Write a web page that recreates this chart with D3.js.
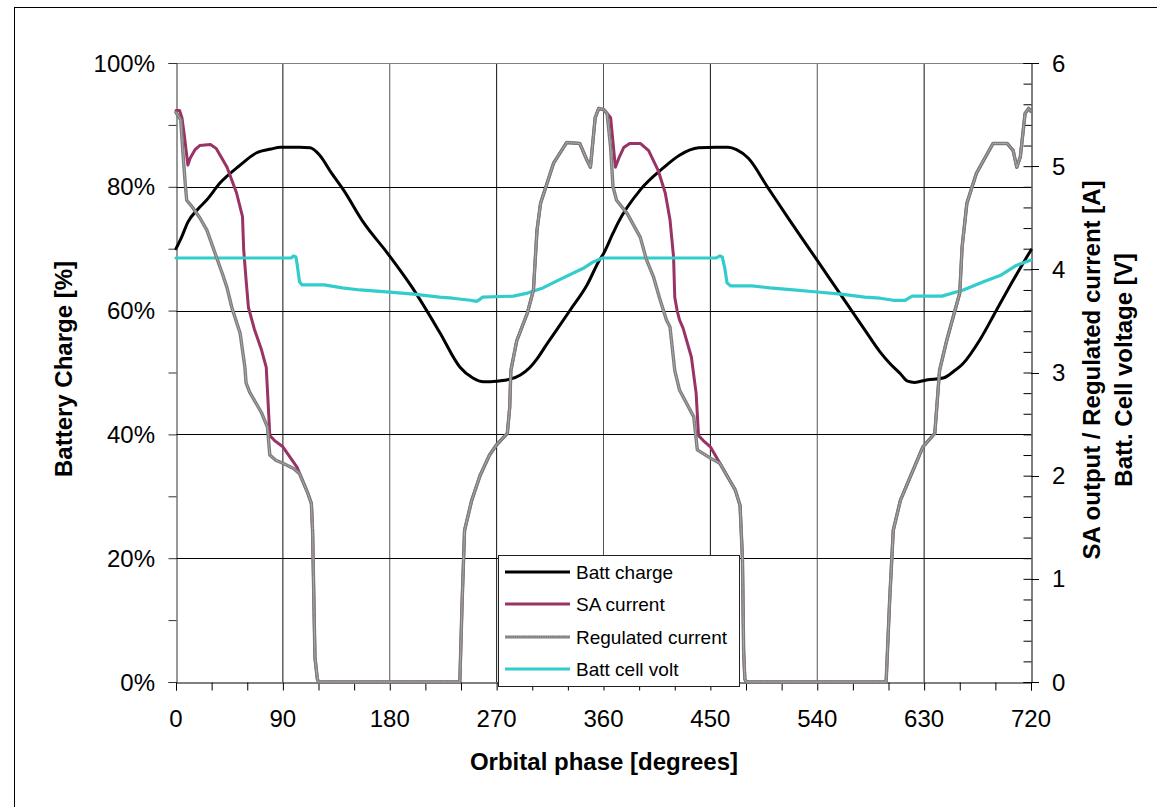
<!DOCTYPE html>
<html><head><meta charset="utf-8">
<script src="https://cdn.jsdelivr.net/npm/d3@7/dist/d3.min.js"></script>
<style>body{margin:0;background:#fff}svg{display:block}text{font-family:"Liberation Sans",Arial,sans-serif}</style>
</head><body><svg id="c" width="1157" height="807"></svg>
<script>
// ---- data ----
const xTicks = [0,90,180,270,360,450,540,630,720];
const leftTicks = [0,20,40,60,80,100];
const rightTicks = [0,1,2,3,4,5,6];

const chargePhase = [0,5,10,18,26,37,54,68,80,88,104,113,121,131,141,158,178,199,222,239,250,259,270,281,290,298,304,312,321,332,346,357,360,368,372,391,410,424,440,455,465,472,482,498,515,540,560,580,593,601,610,616,622,632,646,655,663,677,691,705,720];
const chargeVal   = [70,72,74.3,76.3,77.9,80.6,83.5,85.5,86.1,86.4,86.4,86.3,85.1,82.2,79.5,74.2,69.3,63.7,56.5,50.9,49.1,48.5,48.6,48.9,49.6,50.8,52.2,54.5,57,60.1,64.1,68.3,69.2,72.5,74.1,79.5,83,85.1,86.3,86.4,86.4,86,84.6,80,75.1,68.1,62.5,56.9,53.3,51.5,49.8,48.6,48.4,48.8,49.1,50.2,51.5,55.3,60.1,64.9,69.8];

const saPhase = [0,3,5,7,10,12,16,20,29,34,43,51,56,57,59,61,66,72,76,79,83,90,102,111,114,115,117,119,120,239,241,243,249,256,264,270,279,281,282,287,296,301,304,307,318,329,340,346,349,353,356,361,366,370,373,377,382,391,398,406,412,416,419,420,422,424,427,434,438,440,444,450,458,465,471,475,477,478,479,480,598,601,604,610,618,629,639,643,649,660,662,666,674,688,700,705,708,711,715,718,720];
const saVal   = [5.54,5.54,5.47,5.3,5.01,5.08,5.16,5.2,5.21,5.17,4.99,4.74,4.51,4.19,3.9,3.63,3.42,3.22,3.05,2.39,2.34,2.28,2.08,1.83,1.73,1.47,0.24,0.03,0,0,0.8,1.47,1.76,2.0,2.2,2.3,2.41,2.66,3.02,3.31,3.58,3.8,4.38,4.64,5.03,5.23,5.22,5.06,4.99,5.47,5.56,5.54,5.47,4.99,5.08,5.18,5.22,5.22,5.15,4.96,4.74,4.48,4.12,3.73,3.6,3.51,3.43,3.15,2.8,2.39,2.34,2.28,2.12,1.98,1.86,1.71,1.2,0.3,0.03,0,0,0.8,1.47,1.76,1.98,2.28,2.41,3.02,3.31,3.77,4.22,4.64,4.93,5.22,5.22,5.15,4.99,5.09,5.51,5.56,5.53];

const regPhase = [0,4,6,8,9,14,20,26,34,39,43,47,54,58,59,62,72,77,79,84,90,99,104,111,114,115,117,119,120,239,241,243,249,256,264,270,279,281,282,287,296,301,304,307,318,329,340,346,349,353,356,360,363,366,368,371,380,391,396,402,407,413,416,420,424,436,439,450,458,465,471,475,477,478,479,480,598,601,604,610,618,629,639,643,649,660,662,666,674,688,700,705,708,711,715,718,720];
const regVal   = [5.52,5.45,5.1,4.8,4.67,4.6,4.5,4.38,4.12,3.96,3.82,3.63,3.38,3.05,2.9,2.81,2.61,2.47,2.2,2.15,2.12,2.07,2.02,1.83,1.73,1.47,0.24,0.03,0,0,0.8,1.47,1.76,2.0,2.2,2.3,2.41,2.66,3.02,3.31,3.58,3.8,4.38,4.64,5.03,5.23,5.22,5.06,4.99,5.47,5.56,5.55,5.51,5.18,4.8,4.67,4.54,4.31,4.1,3.93,3.73,3.51,3.44,3.02,2.83,2.57,2.25,2.17,2.12,1.98,1.86,1.71,1.2,0.3,0.03,0,0,0.8,1.47,1.76,1.98,2.28,2.41,3.02,3.31,3.77,4.22,4.64,4.93,5.22,5.22,5.15,4.99,5.09,5.51,5.56,5.53];

const voltPhase = [0,97,99,101,102,104,106,125,140,155,180,200,222,233,248,253,256,258,284,296,309,323,343,351,359,455,458,460,462,464,467,485,500,520,540,560,580,593,604,614,617,620,645,663,680,694,708,720];
const voltVal   = [4.11,4.11,4.13,4.12,4.05,3.88,3.85,3.85,3.82,3.8,3.78,3.76,3.73,3.72,3.7,3.69,3.71,3.73,3.74,3.77,3.82,3.9,4.01,4.07,4.11,4.11,4.13,4.12,4.02,3.87,3.84,3.84,3.82,3.8,3.78,3.76,3.73,3.72,3.7,3.7,3.72,3.74,3.74,3.8,3.88,3.94,4.04,4.09];

const legendNames = ["Batt charge","SA current","Regulated current","Batt cell volt"];
const xTitle = "Orbital phase [degrees]";
const yLeftTitle = "Battery Charge [%]";
const yRightTitle1 = "SA output / Regulated current [A]";
const yRightTitle2 = "Batt. Cell voltage [V]";

// ---- drawing ----
const svg = d3.select("#c");
const X0=176, X1=1031, Y0=682, Y1=63;
const x = d3.scaleLinear().domain([0,720]).range([X0,X1]);
const yL = d3.scaleLinear().domain([0,100]).range([Y0,Y1]);
const yR = d3.scaleLinear().domain([0,6]).range([Y0,Y1]);

// outer frame
svg.append("rect").attr("x",14.5).attr("y",7.5).attr("width",1200).attr("height",1000)
  .attr("fill","none").attr("stroke","#000").attr("stroke-width",1);

// gridlines
const g = svg.append("g");
g.selectAll(".vg").data(xTicks.filter(d=>d>0&&d<720)).join("line")
  .attr("x1",d=>x(d)).attr("x2",d=>x(d)).attr("y1",Y1).attr("y2",Y0)
  .attr("stroke",d=>(d%180===0)?"#555":"#111").attr("stroke-width",1);
g.selectAll(".hg").data(leftTicks.filter(d=>d>0&&d<100)).join("line")
  .attr("x1",X0).attr("x2",X1).attr("y1",d=>Math.round(yL(d))+0.5).attr("y2",d=>Math.round(yL(d))+0.5)
  .attr("stroke","#000").attr("stroke-width",1);
g.append("line").attr("x1",X0).attr("x2",X1).attr("y1",Y1+0.5).attr("y2",Y1+0.5).attr("stroke","#808080");

// left axis
const axL = svg.append("g").attr("transform",`translate(${X0+0.5},0)`)
  .call(d3.axisLeft(yL).tickValues(d3.range(0,101,10)).tickSize(8).tickFormat(""));
axL.select(".domain").attr("stroke","#333");
axL.selectAll(".tick line").attr("stroke","#333");
svg.append("g").selectAll("text").data(leftTicks).join("text")
  .attr("x",155).attr("y",d=>yL(d)).attr("dy","0.36em").attr("text-anchor","end")
  .attr("font-size",24).attr("fill","#000").text(d=>d+"%");

// right axis
const axR = svg.append("g").attr("transform",`translate(${X1+0.5},0)`)
  .call(d3.axisLeft(yR).tickValues(d3.range(0,31).map(i=>i*0.2)).tickSize(8).tickFormat(""));
axR.select(".domain").attr("stroke","#000");
axR.selectAll(".tick line").attr("stroke","#000");
svg.append("g").selectAll("line").data(rightTicks).join("line")
  .attr("x1",X1).attr("x2",X1+8).attr("y1",d=>Math.round(yR(d))+0.5).attr("y2",d=>Math.round(yR(d))+0.5).attr("stroke","#000");
svg.append("g").selectAll("text").data(rightTicks).join("text")
  .attr("x",1052).attr("y",d=>yR(d)).attr("dy","0.36em").attr("text-anchor","start")
  .attr("font-size",24).attr("fill","#000").text(d=>d);

// bottom axis
const axB = svg.append("g").attr("transform",`translate(0,${Y0+0.5})`)
  .call(d3.axisBottom(x).tickValues(d3.range(0,721,30)).tickSize(8).tickFormat(""));
axB.select(".domain").attr("stroke","#000");
axB.selectAll(".tick line").attr("stroke","#000");
svg.append("g").selectAll("text").data(xTicks).join("text")
  .attr("x",d=>x(d)).attr("y",727).attr("text-anchor","middle")
  .attr("font-size",24).attr("fill","#000").text(d=>d);

// titles
svg.append("text").attr("x",604).attr("y",770).attr("text-anchor","middle")
  .attr("font-size",24).attr("font-weight","bold").text(xTitle);
svg.append("text").attr("transform","translate(72,369) rotate(-90)").attr("text-anchor","middle")
  .attr("font-size",24).attr("font-weight","bold").text(yLeftTitle);
svg.append("text").attr("transform","translate(1100,370) rotate(-90)").attr("text-anchor","middle")
  .attr("font-size",24).attr("font-weight","bold").text(yRightTitle1);
svg.append("text").attr("transform","translate(1132,370) rotate(-90)").attr("text-anchor","middle")
  .attr("font-size",24).attr("font-weight","bold").text(yRightTitle2);

// series
const zip = (a,b)=>a.map((d,i)=>[d,b[i]]);
const lineL = d3.line().x(d=>x(d[0])).y(d=>yL(d[1])).curve(d3.curveMonotoneX);
const lineR = d3.line().x(d=>x(d[0])).y(d=>yR(d[1]));
const P = svg.append("g").attr("fill","none").attr("stroke-linejoin","round").attr("stroke-linecap","round");
P.append("path").attr("d",lineL(zip(chargePhase,chargeVal))).attr("stroke","#000").attr("stroke-width",3);
P.append("path").attr("d",lineR(zip(saPhase,saVal))).attr("stroke","#993366").attr("stroke-width",3);
P.append("path").attr("d",lineR(zip(voltPhase,voltVal))).attr("stroke","#33CCCC").attr("stroke-width",3.2);
const regD = lineR(zip(regPhase,regVal));
P.append("path").attr("d",regD).attr("stroke","#7c7c7c").attr("stroke-width",3.4);
P.append("path").attr("d",regD).attr("stroke","#b4b4b4").attr("stroke-width",1).attr("stroke-dasharray","1,1.2");

// legend
const L = svg.append("g");
L.append("rect").attr("x",498.5).attr("y",555.5).attr("width",241).attr("height",131)
  .attr("fill","#fff").attr("stroke","#222").attr("stroke-width",1);
const legColors = ["#000","#993366","#7c7c7c","#33CCCC"];
const legY = [572,604,637,669];
legendNames.forEach((n,i)=>{
  L.append("line").attr("x1",505).attr("x2",570).attr("y1",legY[i]).attr("y2",legY[i])
    .attr("stroke",legColors[i]).attr("stroke-width",3);
  if(i===2) L.append("line").attr("x1",505).attr("x2",570).attr("y1",legY[i]).attr("y2",legY[i])
    .attr("stroke","#b4b4b4").attr("stroke-width",1).attr("stroke-dasharray","1,1.2");
  L.append("text").attr("x",576).attr("y",legY[i]).attr("dy","0.36em")
    .attr("font-size",19).attr("fill","#000").text(n);
});
</script></body></html>
